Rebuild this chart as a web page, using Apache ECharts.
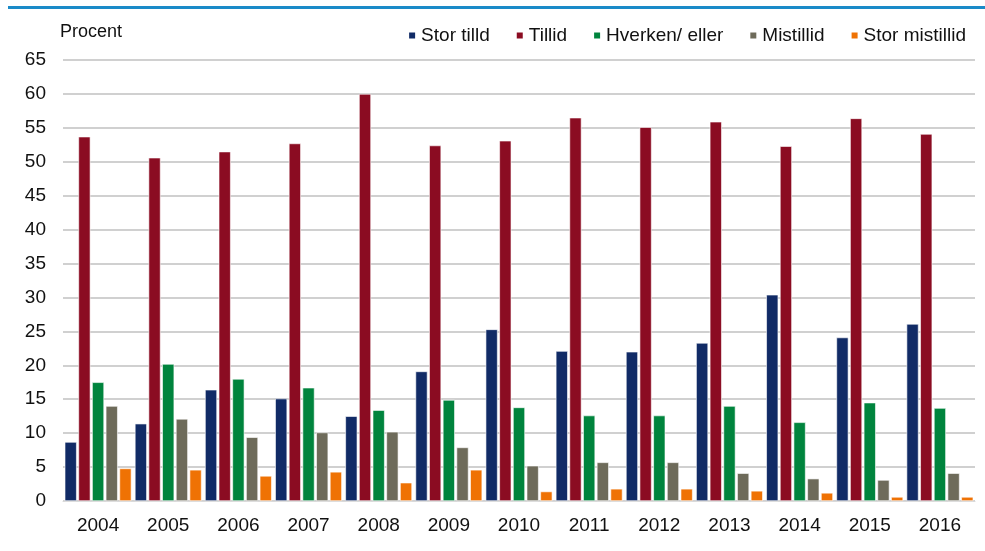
<!DOCTYPE html>
<html>
<head>
<meta charset="utf-8">
<script src="https://cdn.jsdelivr.net/npm/echarts@6/dist/echarts.min.js"></script>
<style>
  html, body { margin: 0; padding: 0; background: #fff; }
  #chart { width: 985px; height: 551px; }
</style>
</head>
<body>
<div id="chart"></div>
<script>
const years = ["2004", "2005", "2006", "2007", "2008", "2009", "2010", "2011", "2012", "2013", "2014", "2015", "2016"];

const storTilld = [8.7, 11.4, 16.4, 15.1, 12.5, 19.1, 25.3, 22.1, 22.0, 23.3, 30.4, 24.1, 26.1];
const tillid = [53.7, 50.6, 51.5, 52.7, 60.0, 52.4, 53.1, 56.5, 55.1, 55.9, 52.3, 56.4, 54.1];
const hverkenEller = [17.5, 20.2, 18.0, 16.7, 13.4, 14.9, 13.8, 12.6, 12.6, 14.0, 11.6, 14.5, 13.7];
const mistillid = [14.0, 12.1, 9.4, 10.1, 10.2, 7.9, 5.2, 5.7, 5.7, 4.1, 3.3, 3.1, 4.1];
const storMistillid = [4.8, 4.6, 3.7, 4.3, 2.7, 4.6, 1.4, 1.8, 1.8, 1.5, 1.2, 0.6, 0.6];

const seriesNames = ["Stor tilld", "Tillid", "Hverken/ eller", "Mistillid", "Stor mistillid"];
const seriesData = [storTilld, tillid, hverkenEller, mistillid, storMistillid];
const colors = ["#112b66", "#8b0c22", "#00843d", "#6e6b5a", "#ef7204"];

const chart = echarts.init(document.getElementById("chart"));

const font = "'Liberation Sans', Arial, sans-serif";

const option = {
  animation: false,
  color: colors,
  textStyle: { fontFamily: font },
  graphic: [
    {
      type: "rect",
      shape: { x: 8, y: 6, width: 977, height: 3 },
      style: { fill: "#1a8ac8" }
    },
    {
      type: "text",
      left: 60,
      top: 23,
      style: { text: "Procent", font: "18px " + font, fill: "#111" }
    }
  ],
  legend: {
    right: 14,
    top: 21,
    itemWidth: 8,
    itemHeight: 8,
    itemGap: 25,
    icon: "rect",
    textStyle: { fontSize: 19, color: "#111", fontFamily: font },
    data: seriesNames
  },
  grid: {
    left: 63,
    right: 10,
    top: 60,
    bottom: 50,
    containLabel: false
  },
  xAxis: {
    type: "category",
    data: years,
    axisLine: { show: true, lineStyle: { color: "#d9d9d9" } },
    axisTick: { show: false },
    axisLabel: { fontSize: 19, color: "#111", margin: 15, fontFamily: font }
  },
  yAxis: {
    type: "value",
    min: 0,
    max: 65,
    interval: 5,
    axisLine: { show: false },
    axisTick: { show: false },
    axisLabel: { fontSize: 19, color: "#111", margin: 17, fontFamily: font },
    splitLine: { lineStyle: { color: "#d0d0d0", width: 2 } }
  },
  series: seriesNames.map((name, i) => ({
    name: name,
    type: "bar",
    data: seriesData[i],
    barWidth: 12,
    barGap: "14%",
    itemStyle: { color: colors[i], borderColor: "#fff", borderWidth: 0.6 }
  }))
};

chart.setOption(option);
</script>
</body>
</html>
